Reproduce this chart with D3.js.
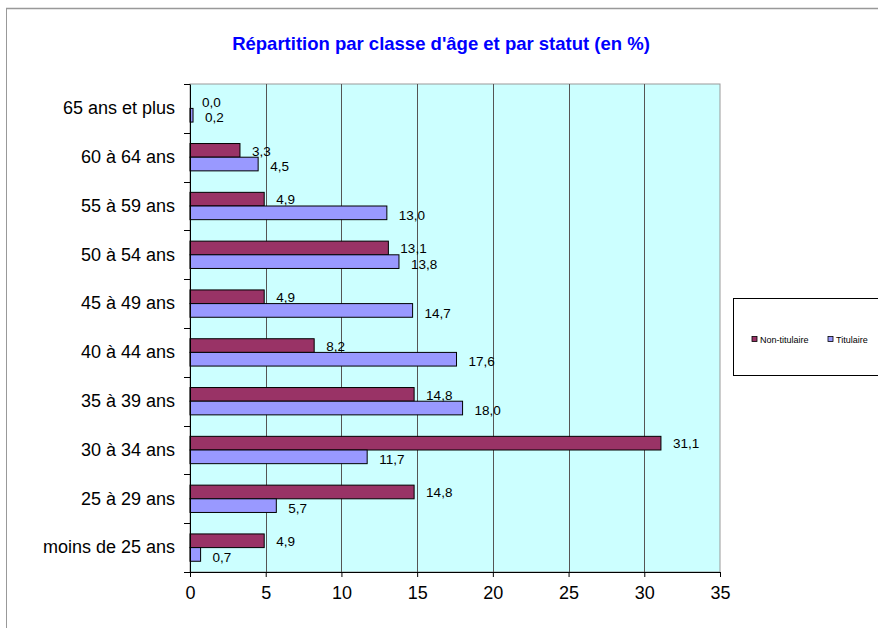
<!DOCTYPE html>
<html>
<head>
<meta charset="utf-8">
<script src="https://cdn.jsdelivr.net/npm/d3@7"></script>
<style>
  body { margin: 0; background: #fff; }
  svg text { font-family: "Liberation Sans", Arial, sans-serif; }
</style>
</head>
<body>
<div id="chart"></div>
<script>
// categories from top to bottom
const categories = ["65 ans et plus", "60 à 64 ans", "55 à 59 ans", "50 à 54 ans", "45 à 49 ans",
  "40 à 44 ans", "35 à 39 ans", "30 à 34 ans", "25 à 29 ans", "moins de 25 ans"];
const series = ["Non-titulaire", "Titulaire"];
const nonTitulaire = [0.0, 3.3, 4.9, 13.1, 4.9, 8.2, 14.8, 31.1, 14.8, 4.9];
const titulaire = [0.2, 4.5, 13.0, 13.8, 14.7, 17.6, 18.0, 11.7, 5.7, 0.7];
const xTicks = [0, 5, 10, 15, 20, 25, 30, 35];

const width = 878, height = 628;
const plot = {left: 190, right: 720, top: 84, bottom: 572};

const svg = d3.select("#chart").append("svg").attr("width", width).attr("height", height);

// outer chart frame
svg.append("line").attr("x1", 6).attr("x2", width).attr("y1", 8.5).attr("y2", 8.5)
  .attr("stroke", "#999").attr("stroke-width", 1.5);
svg.append("line").attr("x1", 6.5).attr("x2", 6.5).attr("y1", 8).attr("y2", height)
  .attr("stroke", "#999");

svg.append("text").attr("x", 441).attr("y", 49.5).attr("text-anchor", "middle")
  .attr("font-size", 18.5).attr("font-weight", "bold").attr("fill", "#0000FF")
  .text("Répartition par classe d'âge et par statut (en %)");

const x = d3.scaleLinear().domain([0, 35]).range([plot.left, plot.right]);
const y = d3.scaleBand().domain(categories).range([plot.top, plot.bottom])
  .paddingInner(0.44).paddingOuter(0.22);
const ySub = d3.scaleBand().domain(series).range([0, y.bandwidth()]);
const colors = d3.scaleOrdinal().domain(series).range(["#993366", "#9999FF"]);
const fr = d3.formatLocale({decimal: ",", thousands: " ", grouping: [3], currency: ["", "€"]});
const fmt = fr.format(".1f");

// plot background
svg.append("rect").attr("x", plot.left).attr("y", plot.top)
  .attr("width", plot.right - plot.left).attr("height", plot.bottom - plot.top)
  .attr("fill", "#CCFFFF").attr("stroke", "#999");

// vertical grid
svg.append("g").selectAll("line").data(xTicks.slice(1, -1)).join("line")
  .attr("x1", d => Math.round(x(d)) + 0.5).attr("x2", d => Math.round(x(d)) + 0.5)
  .attr("y1", plot.top).attr("y2", plot.bottom)
  .attr("stroke", "#555");

// bars
const data = [];
categories.forEach((c, i) => {
  data.push({cat: c, s: "Non-titulaire", v: nonTitulaire[i]});
  data.push({cat: c, s: "Titulaire", v: titulaire[i]});
});

svg.append("g").selectAll("rect").data(data).join("rect")
  .attr("x", x(0))
  .attr("y", d => y(d.cat) + ySub(d.s))
  .attr("width", d => x(d.v) - x(0))
  .attr("height", ySub.bandwidth())
  .attr("fill", d => colors(d.s))
  .attr("stroke", "#000").attr("stroke-width", 1);

// value labels, nudged apart slightly so the two rows don't collide
svg.append("g").selectAll("text").data(data).join("text")
  .attr("x", d => x(d.v) + 12)
  .attr("y", d => y(d.cat) + ySub(d.s) + ySub.bandwidth() / 2 + (d.s === "Titulaire" ? 2.5 : 0.5))
  .attr("dy", "0.35em")
  .attr("font-size", 13.5).attr("fill", "#000")
  .text(d => fmt(d.v));

// x axis
const xAxis = svg.append("g").attr("transform", `translate(0,${plot.bottom})`)
  .call(d3.axisBottom(x).tickValues(xTicks).tickSize(5).tickPadding(9));
xAxis.select(".domain").attr("stroke", "#000");
xAxis.selectAll("text").attr("font-size", 18).attr("fill", "#000");

// y axis (labels centered on bands, ticks on boundaries)
const yAxis = svg.append("g").attr("transform", `translate(${plot.left},0)`)
  .call(d3.axisLeft(y).tickSize(0).tickPadding(15));
yAxis.select(".domain").attr("stroke", "#000");
yAxis.selectAll("text").attr("font-size", 18).attr("fill", "#000");

const step = y.step();
const bounds = d3.range(categories.length + 1).map(i => plot.top + i * step);
svg.append("g").selectAll("line").data(bounds).join("line")
  .attr("x1", plot.left - 6).attr("x2", plot.left)
  .attr("y1", d => Math.round(d) + 0.5).attr("y2", d => Math.round(d) + 0.5)
  .attr("stroke", "#000");

// legend
const legend = svg.append("g");
legend.append("rect").attr("x", 733.5).attr("y", 298.5).attr("width", 160).attr("height", 77)
  .attr("fill", "#fff").attr("stroke", "#000");
const legX = [752, 828];
series.forEach((s, i) => {
  legend.append("rect").attr("x", legX[i]).attr("y", 336.5).attr("width", 5).attr("height", 5)
    .attr("fill", colors(s)).attr("stroke", "#000").attr("stroke-width", 0.8);
  legend.append("text").attr("x", legX[i] + 8).attr("y", 339.5).attr("dy", "0.35em")
    .attr("font-size", 9).attr("fill", "#000").text(s);
});
</script>
</body>
</html>
